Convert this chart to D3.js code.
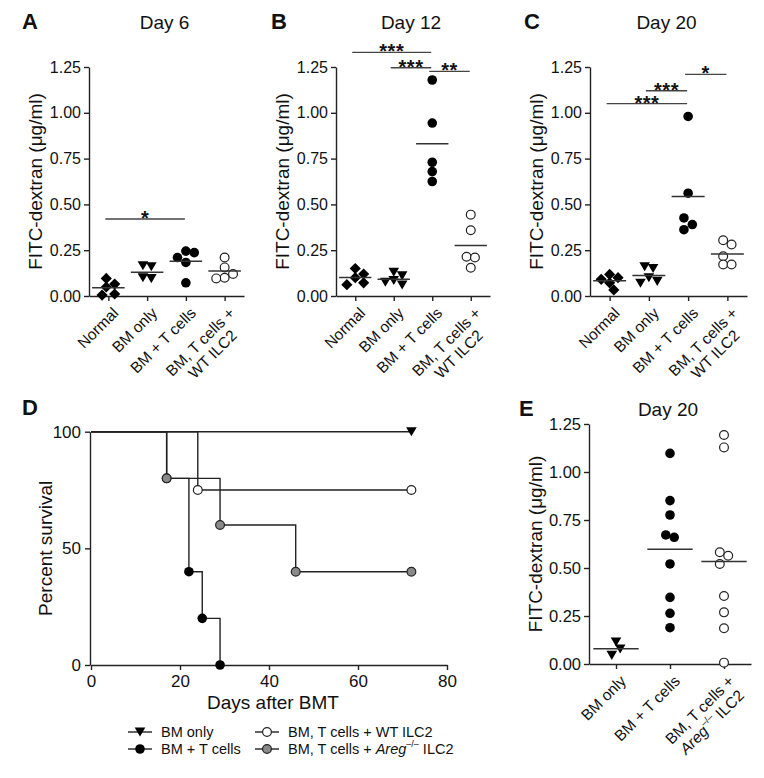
<!DOCTYPE html>
<html><head><meta charset="utf-8">
<script src="https://cdn.jsdelivr.net/npm/d3@7"></script>
<style>
body{margin:0;background:#fff}
svg{display:block}
text{font-family:"Liberation Sans",Arial,Helvetica,sans-serif;fill:#111}
</style>
</head><body>
<svg id="c" width="764" height="778"></svg>
<script>
// ---------- DATA ----------
const groupsABC = ["Normal", "BM only", "BM + T cells", "BM, T cells +\nWT ILC2"];
const groupsE = ["BM only", "BM + T cells", "BM, T cells +\nAreg ILC2"];
const dotTicks = [0, 0.25, 0.5, 0.75, 1.0, 1.25];

// Panel A – Day 6
const day6Normal = [0.096, 0.065, 0.049, 0.011, 0.005];
const day6BMonly = [0.165, 0.16, 0.10, 0.095];
const day6BMT = [0.245, 0.237, 0.21, 0.183, 0.072];
const day6WT = [0.21, 0.156, 0.12, 0.10, 0.096];
const day6Sig = [[0, 2, 0.42, "*"]];

// Panel B – Day 12
const day12Normal = [0.15, 0.12, 0.10, 0.072, 0.062];
const day12BMonly = [0.13, 0.11, 0.085, 0.075, 0.06];
const day12BMT = [1.179, 0.944, 0.73, 0.679, 0.625];
const day12WT = [0.444, 0.359, 0.214, 0.21, 0.154];
const day12Sig = [[0, 2, 1.33, "***"], [1, 2, 1.246, "***"], [2, 3, 1.226, "**"]];

// Panel C – Day 20
const day20Normal = [0.118, 0.10, 0.091, 0.072, 0.033];
const day20BMonly = [0.16, 0.15, 0.10, 0.08, 0.07];
const day20BMT = [0.98, 0.561, 0.426, 0.39, 0.362];
const day20WT = [0.304, 0.281, 0.217, 0.172, 0.172];
const day20Sig = [[0, 2, 1.05, "***"], [1, 2, 1.12, "***"], [2, 3, 1.21, "*"]];

// Panel D – survival
const survTicksX = [0, 20, 40, 60, 80];
const survTicksY = [0, 50, 100];
const survBMonlyT = [0, 72], survBMonlyP = [100, 100];
const survBMTT = [0, 17, 22, 25, 29], survBMTP = [100, 80, 40, 20, 0];
const survWTT = [0, 24, 72], survWTP = [100, 75, 75];
const survAregT = [0, 17, 29, 46, 72], survAregP = [100, 80, 60, 40, 40];

// Panel E – Day 20 (Areg)
const eBMonly = [0.115, 0.078, 0.045];
const eBMT = [1.097, 0.851, 0.776, 0.672, 0.66, 0.521, 0.347, 0.264, 0.189];
const eAreg = [1.193, 1.128, 0.582, 0.564, 0.521, 0.354, 0.269, 0.186, 0.007];

// ---------- DRAWING ----------
const svg = d3.select("#c");
const INK = "#222";
const SYM = {
  diamond: "M0,-5.6L5.6,0L0,5.6L-5.6,0Z",
  tri: "M-5.3,-4.5L5.3,-4.5L0,4.6Z"
};

function marker(g, type, cx, cy) {
  if (type === "diamond" || type === "tri") {
    g.append("path").attr("d", SYM[type]).attr("transform", `translate(${cx},${cy})`).attr("fill", "#000");
  } else {
    const fill = type === "filled" ? "#000" : type === "open" ? "#fff" : "#8a8a8a";
    g.append("circle").attr("cx", cx).attr("cy", cy).attr("r", type === "filled" ? 4.8 : 4.4)
      .attr("fill", fill).attr("stroke", type === "filled" ? "none" : "#222").attr("stroke-width", 1.2);
  }
}

function swarm(vals, y, r) {
  const idx = vals.map((v, i) => i).sort((a, b) => vals[b] - vals[a]);
  const placed = [], off = new Array(vals.length).fill(0), d = 2 * r;
  idx.forEach(i => {
    const py = y(vals[i]);
    for (let k = 0; k < 40; k++) {
      const c = k === 0 ? 0 : (k % 2 ? Math.ceil(k / 2) * r : -Math.ceil(k / 2) * r);
      if (placed.every(p => Math.hypot(p.x - c, p.y - py) >= d * 0.97)) { placed.push({x: c, y: py, i}); break; }
    }
  });
  let cl = [placed[0]]; const clusters = [cl];
  for (let j = 1; j < placed.length; j++) {
    if (placed[j].y - placed[j - 1].y < d) cl.push(placed[j]); else { cl = [placed[j]]; clusters.push(cl); }
  }
  clusters.forEach(c => {
    const s = (d3.min(c, p => p.x) + d3.max(c, p => p.x)) / 2;
    c.forEach(p => off[p.i] = p.x - s);
  });
  return off;
}

function richLine(t, str) {
  if (str.includes("Areg")) {
    const parts = str.split("Areg");
    if (parts[0]) t.append("tspan").text(parts[0]);
    t.append("tspan").attr("font-style", "italic").text("Areg");
    t.append("tspan").attr("font-size", "0.62em").attr("dy", "-0.75em").text("–/–");
    t.append("tspan").attr("dy", "0.46em").text(parts[1]);
  } else t.text(str);
}

function styleAxis(a, fs) {
  a.selectAll("path,line").attr("stroke", INK).attr("stroke-width", 1.4);
  a.selectAll("text").attr("font-size", fs).attr("fill", "#111");
}

function yLabel(x, y, fs) {
  svg.append("text").attr("transform", `translate(${x},${y}) rotate(-90)`)
    .attr("text-anchor", "middle").attr("font-size", fs).text("FITC-dextran (μg/ml)");
}

function dotPanel(o) {
  const g = svg.append("g");
  const y = d3.scaleLinear().domain([0, 1.25]).range([o.y0, o.y1]);
  const x = d3.scalePoint().domain(o.cats.map((c, i) => i)).range([o.xa, o.xb]).padding(0.5);
  const step = x.step();
  const ya = g.append("g").attr("transform", `translate(${o.xa},0)`)
    .call(d3.axisLeft(y).tickValues(dotTicks).tickFormat(d3.format(".2f")).tickSize(5).tickSizeOuter(0).tickPadding(3));
  styleAxis(ya, o.tickFs);
  const xa = g.append("g").attr("transform", `translate(0,${o.y0})`)
    .call(d3.axisBottom(x).tickSize(5).tickSizeOuter(0).tickFormat(""));
  styleAxis(xa, o.tickFs);
  // category labels
  o.cats.forEach((c, i) => {
    const lines = c.split("\n");
    const lg = g.append("g").attr("transform", `translate(${x(i) + 11},${o.y0 + 18}) rotate(-45)`);
    const ts = lines.map((l, k) => {
      const t = lg.append("text").attr("font-size", o.labFs).attr("y", k * o.labFs * 1.12);
      richLine(t, l);
      return t;
    });
    if (lines.length === 1) ts[0].attr("text-anchor", "end");
    else {
      const L = d3.max(ts, t => t.node().getComputedTextLength());
      ts.forEach(t => t.attr("text-anchor", "middle").attr("x", -L / 2));
    }
  });
  // title, letter, y label
  svg.append("text").attr("x", (o.xa + o.xb) / 2 - 2).attr("y", o.ty).attr("text-anchor", "middle")
    .attr("font-size", 19).text(o.title);
  svg.append("text").attr("x", o.lx).attr("y", o.ty).attr("font-size", 22).attr("font-weight", 900).text(o.letter);
  yLabel(o.xa - 47, (o.y0 + o.y1) / 2, 19);
  // points
  o.series.forEach((vals, i) => {
    const off = swarm(vals, y, 4.2);
    vals.forEach((v, j) => marker(g, o.syms[i], x(i) + off[j], y(v)));
    const m = d3.mean(vals);
    g.append("line").attr("x1", x(i) - 0.42 * step).attr("x2", x(i) + 0.42 * step)
      .attr("y1", y(m)).attr("y2", y(m)).attr("stroke", "#333").attr("stroke-width", 1.5);
  });
  // significance
  (o.sig || []).forEach(([a, b, v, lab]) => {
    const x1 = x(a) - 3, x2 = x(b) - 1;
    g.append("line").attr("x1", x1).attr("x2", x2).attr("y1", y(v)).attr("y2", y(v))
      .attr("stroke", "#444").attr("stroke-width", 1.4);
    g.append("text").attr("x", (x1 + x2) / 2).attr("y", y(v) + 6).attr("text-anchor", "middle")
      .attr("font-size", 20).attr("font-weight", "bold").attr("letter-spacing", 0.5).text(lab);
  });
}

const symABC = ["diamond", "tri", "filled", "open"];
dotPanel({letter: "A", lx: 22, title: "Day 6", ty: 29, xa: 89, xb: 244, y0: 296, y1: 67, tickFs: 16, labFs: 15.5,
  cats: groupsABC, series: [day6Normal, day6BMonly, day6BMT, day6WT], syms: symABC, sig: day6Sig});
dotPanel({letter: "B", lx: 271, title: "Day 12", ty: 29, xa: 336, xb: 490, y0: 296, y1: 67, tickFs: 16, labFs: 15.5,
  cats: groupsABC, series: [day12Normal, day12BMonly, day12BMT, day12WT], syms: symABC, sig: day12Sig});
dotPanel({letter: "C", lx: 524, title: "Day 20", ty: 29, xa: 590, xb: 747, y0: 296, y1: 67, tickFs: 16, labFs: 15.5,
  cats: groupsABC, series: [day20Normal, day20BMonly, day20BMT, day20WT], syms: symABC, sig: day20Sig});
dotPanel({letter: "E", lx: 519, title: "Day 20", ty: 416, xa: 589, xb: 751, y0: 664, y1: 424, tickFs: 16.5, labFs: 15.5,
  cats: groupsE, series: [eBMonly, eBMT, eAreg], syms: ["tri", "filled", "open"], sig: []});

// ---------- Panel D ----------
(function () {
  const g = svg.append("g");
  const x = d3.scaleLinear().domain([0, 80]).range([91, 447]);
  const y = d3.scaleLinear().domain([0, 100]).range([665, 431.7]);
  const xa = g.append("g").attr("transform", `translate(0,${y(0)})`)
    .call(d3.axisBottom(x).tickValues(survTicksX).tickSize(5).tickSizeOuter(0).tickPadding(5));
  styleAxis(xa, 17);
  const ya = g.append("g").attr("transform", `translate(${x(0) - 1},0)`)
    .call(d3.axisLeft(y).tickValues(survTicksY).tickSize(5).tickSizeOuter(0).tickPadding(4));
  styleAxis(ya, 17);
  svg.append("text").attr("x", 22).attr("y", 415).attr("font-size", 22).attr("font-weight", 900).text("D");
  svg.append("text").attr("transform", `translate(52,${(y(0) + y(100)) / 2}) rotate(-90)`)
    .attr("text-anchor", "middle").attr("font-size", 19).text("Percent survival");
  svg.append("text").attr("x", 273).attr("y", 709).attr("text-anchor", "middle").attr("font-size", 19).text("Days after BMT");

  const curves = [
    {t: survBMTT, p: survBMTP, m: "filled"},
    {t: survWTT, p: survWTP, m: "open"},
    {t: survAregT, p: survAregP, m: "gray"},
    {t: survBMonlyT, p: survBMonlyP, m: "tri"}
  ];
  curves.forEach(c => {
    const pts = c.t.map((t, i) => [t, c.p[i]]);
    const line = d3.line().x(d => x(d[0])).y(d => y(d[1])).curve(d3.curveStepAfter);
    g.append("path").attr("d", line(pts)).attr("fill", "none").attr("stroke", "#222").attr("stroke-width", 1.4);
  });
  curves.forEach(c => {
    c.t.forEach((t, i) => { if (i > 0) marker(g, c.m, x(t), y(c.p[i])); });
  });
  // legend
  const leg = [
    {x: 140, y: 732, m: "tri", lab: "BM only"},
    {x: 140, y: 749, m: "filled", lab: "BM + T cells"},
    {x: 267, y: 732, m: "open", lab: "BM, T cells + WT ILC2"},
    {x: 267, y: 749, m: "gray", lab: "BM, T cells + Areg ILC2"}
  ];
  leg.forEach(l => {
    g.append("line").attr("x1", l.x - 12).attr("x2", l.x + 12).attr("y1", l.y).attr("y2", l.y)
      .attr("stroke", "#222").attr("stroke-width", 1.4);
    marker(g, l.m, l.x, l.y);
    const t = g.append("text").attr("x", l.x + 21).attr("y", l.y).attr("dy", "0.36em").attr("font-size", 14.5);
    richLine(t, l.lab);
  });
})();
</script>
</body></html>
